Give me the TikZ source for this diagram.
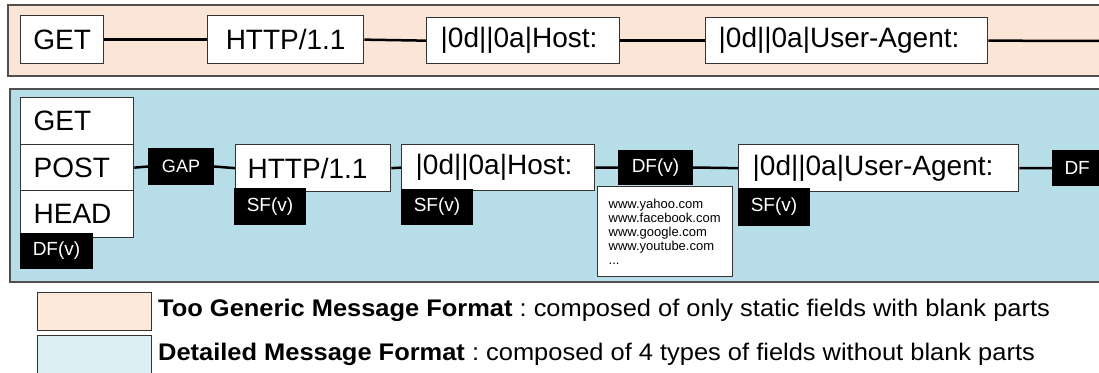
\documentclass[tikz,border=0pt]{standalone}
\usepackage{fontspec}
\setmainfont{Liberation Sans}
\definecolor{peach}{HTML}{FBE5D6}
\definecolor{peachleg}{HTML}{FDE9D9}
\definecolor{aqua}{HTML}{B7DEE8}
\definecolor{aqualeg}{HTML}{DAEEF3}
\definecolor{panelline}{HTML}{505050}
\definecolor{boxline}{HTML}{333333}
\tikzset{
  panel/.style={draw=panelline, line width=1.5pt},
  wbox/.style={draw=boxline, fill=white, line width=1.3pt, inner sep=0pt, anchor=north west,
    font=\fontsize{28}{33}\selectfont},
  lft/.style={align=left, inner xsep=#1},
  blk/.style={draw=black, fill=black, text=white, line width=1pt, inner sep=0pt, anchor=north west,
    font=\fontsize{19}{22}\selectfont},
  listbox/.style={draw=boxline, fill=white, line width=1.3pt, anchor=north west, inner ysep=0pt,
    font=\fontsize{13}{14}\selectfont, align=left, inner xsep=11pt, text width=113pt, minimum height=90pt},
  link/.style={draw=black, line width=2.5pt},
  legbox/.style={draw=boxline, line width=1.3pt, inner sep=0pt, anchor=north west, minimum width=114pt},
  legtext/.style={anchor=base west, inner sep=0pt, font=\fontsize{24}{28}\selectfont}
}
\frenchspacing
\begin{document}
\begin{tikzpicture}[x=1pt, y=-1pt]
\clip (0,0) rectangle (1099,372);
\fill[white] (0,0) rectangle (1099,372);
% top panel
\draw[panel, fill=peach] (8,5) rectangle (1110,76);
\node[wbox, minimum width=83pt, minimum height=48pt] (tget) at (20,15) {GET};
\node[wbox, minimum width=156pt, minimum height=48pt] (thttp) at (207,15) {HTTP/1.1};
\node[wbox, lft=14pt, text width=165pt, minimum height=46pt] (thost) at (426,17) {|0d||0a|Host:};
\node[wbox, lft=13pt, text width=256pt, minimum height=46pt] (tua) at (705,17) {|0d||0a|User-Agent:};
\coordinate (tend) at (1108,41);
\draw[link] (tget.east) -- (thttp.west);
\draw[link] (thttp.east) -- (thost.west);
\draw[link] (thost.east) -- (tua.west);
\draw[link] (tua.east) -- (tend);
% bottom panel
\draw[panel, fill=aqua] (10,89) rectangle (1110,282);
\node[wbox, lft=13pt, text width=87pt, minimum height=47pt] (bget) at (20,97) {GET};
\node[wbox, lft=13pt, text width=87pt, minimum height=46pt] (bpost) at (20,144) {POST};
\node[wbox, lft=13pt, text width=87pt, minimum height=47pt] (bhead) at (20,190) {HEAD};
\node[blk, minimum width=72pt, minimum height=35pt] (dfv1) at (20,233) {DF(v)};
\node[blk, minimum width=65pt, minimum height=36pt, font=\fontsize{18}{21}\selectfont] (gap) at (148,148) {GAP};
\node[wbox, lft=12pt, text width=131pt, minimum height=47pt] (bhttp) at (235,144) {HTTP/1.1};
\node[blk, minimum width=71pt, minimum height=36pt] (sf1) at (234,188) {SF(v)};
\node[wbox, lft=14pt, text width=165pt, minimum height=46pt] (bhost) at (401,144) {|0d||0a|Host:};
\node[blk, minimum width=71pt, minimum height=35pt] (sf2) at (401,189) {SF(v)};
\node[blk, minimum width=74pt, minimum height=34pt] (dfv2) at (618,150) {DF(v)};
\node[listbox] (list) at (597,186) {www.yahoo.com\\www.facebook.com\\www.google.com\\www.youtube.com\\...};
\node[wbox, lft=14pt, text width=252pt, minimum height=47pt] (bua) at (738,144) {|0d||0a|User-Agent:};
\node[blk, minimum width=71pt, minimum height=37pt] (sf3) at (738,188) {SF(v)};
\node[blk, align=left, inner xsep=12pt, text width=56pt, minimum height=35pt] (df) at (1052,150) {DF};
\draw[link] (bpost.east) -- (gap.west);
\draw[link] (gap.east) -- (bhttp.west);
\draw[link] (bhttp.east) -- (bhost.west);
\draw[link] (bhost.east) -- (dfv2.west);
\draw[link] (dfv2.east) -- (bua.west);
\draw[link] (bua.east) -- (df.west);
% legend
\node[legbox, fill=peachleg, minimum height=38pt] (leg1) at (37,292) {};
\node[legbox, fill=aqualeg, minimum height=45pt] (leg2) at (37,335) {};
\node[legtext] (legt1) at (158,316) {\scalebox{1.06}[1]{\textbf{Too Generic Message Format} : composed of only static fields with blank parts}};
\node[legtext] (legt2) at (158,360) {\scalebox{1.06}[1]{\textbf{Detailed Message Format} : composed of 4 types of fields without blank parts}};
\end{tikzpicture}
\end{document}
